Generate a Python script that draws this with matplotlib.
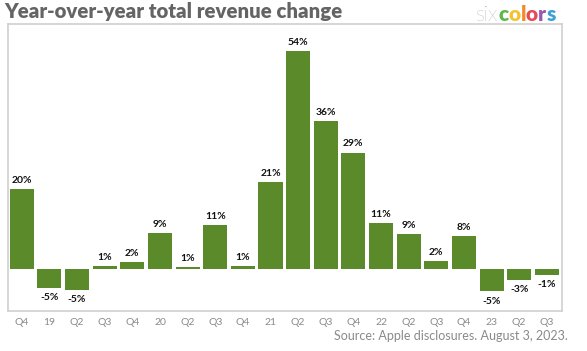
import matplotlib.pyplot as plt
import numpy as np

# Данные
quarters = ['Q4', '19', 'Q2', 'Q3', 'Q4', '20', 'Q2', 'Q3', 'Q4', '21',
            'Q2', 'Q3', 'Q4', '22', 'Q2', 'Q3', 'Q4', '23', 'Q2', 'Q3']
growth = [19.6, -4.6, -5.1, 0.8, 1.8, 8.9, 0.5, 10.9, 0.8, 21.4,
          53.6, 36.4, 28.6, 11.2, 8.6, 1.9, 8.1, -5.5, -2.6, -1.4]
labels = ['20%', '-5%', '-5%', '1%', '2%', '9%', '1%', '11%', '1%', '21%',
          '54%', '36%', '29%', '11%', '9%', '2%', '8%', '-5%', '-3%', '-1%']

logo_six = 'six'
logo_letters = ['c', 'o', 'l', 'o', 'r', 's']
logo_colors = ['#5cb84a', '#f5c12e', '#f28a2a', '#e84a55', '#9a58b5', '#3b9fd9']

green = '#5b8a2a'
plt.rcParams['font.family'] = ['Lato', 'DejaVu Sans']

fig = plt.figure(figsize=(5.87, 3.51), dpi=100)
ax = fig.add_axes([8 / 587, 1 - 311 / 351, 554 / 587, 287 / 351])

x = np.arange(len(quarters))
ax.bar(x, growth, width=0.87, color=green, zorder=2)

for xi, v, lab in zip(x, growth, labels):
    if v >= 0:
        ax.annotate(lab, (xi, v), xytext=(0, 3), textcoords='offset points',
                    ha='center', va='bottom', fontsize=7.5, fontweight='bold', color='#111111')
    else:
        ax.annotate(lab, (xi, v), xytext=(0, -4), textcoords='offset points',
                    ha='center', va='top', fontsize=7.5, fontweight='bold', color='#111111')

ax.set_xlim(-0.5, 19.55)
ax.set_ylim(-10.3, 60.2)
ax.set_yticks([])
ax.set_xticks(x)
ax.set_xticklabels(quarters, fontsize=7.5, color='#8a8a8a')
ax.tick_params(axis='x', length=0, pad=5)
for s in ax.spines.values():
    s.set_color('#d0d0d0')
    s.set_linewidth(1.2)

# Заголовок
fig.text(4 / 587, 1 - 18 / 351, 'Year-over-year total revenue change', fontsize=14.7,
         fontweight='heavy', color='#646464', ha='left', va='baseline')

# Источник
fig.text(568 / 587, 1 - 340 / 351, 'Source: Apple disclosures. August 3, 2023.',
         fontsize=9, color='#8a8a8a', ha='right', va='baseline')

# Логотип
fig.canvas.draw()
renderer = fig.canvas.get_renderer()
t = fig.text(476 / 587, 1 - 21 / 351, logo_six, fontsize=15, color='#8a8a8a',
             fontweight='light', ha='left', va='baseline')
for letter, c in zip(logo_letters, logo_colors):
    bb = t.get_window_extent(renderer)
    t = fig.text(bb.x1 / fig.bbox.width, 1 - 21 / 351, letter, fontsize=15,
                 fontweight='heavy', color=c, ha='left', va='baseline')

fig.savefig('out.png', dpi=100)
